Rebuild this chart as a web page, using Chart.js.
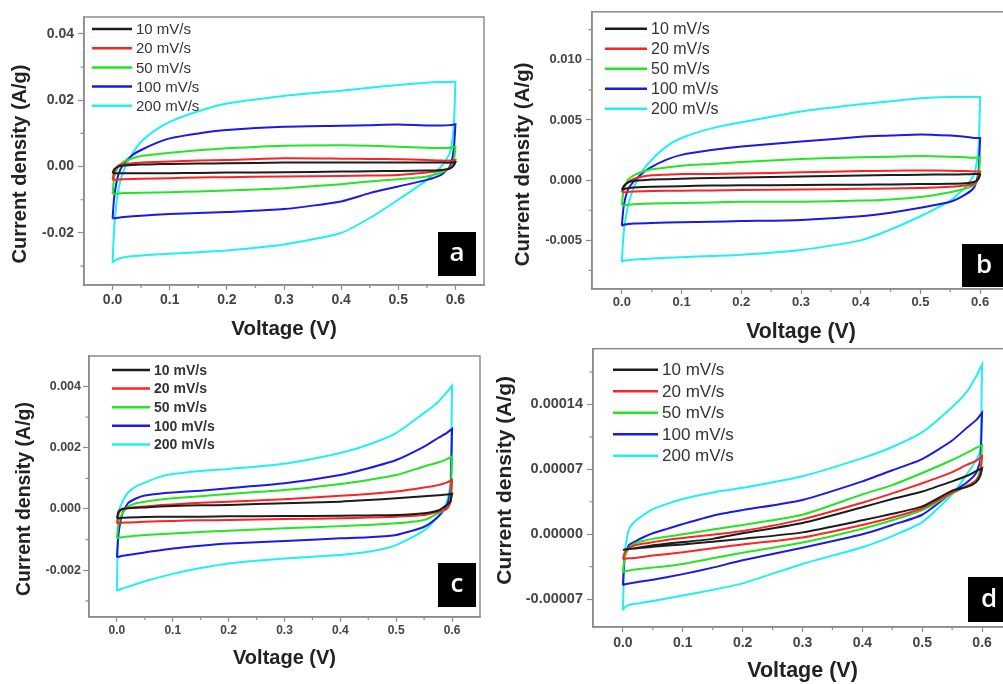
<!DOCTYPE html>
<html>
<head>
<meta charset="utf-8">
<script src="https://cdn.jsdelivr.net/npm/chart.js@4.4.1/dist/chart.umd.min.js"></script>
<style>
  html, body { margin: 0; padding: 0; background: #fff; overflow: hidden; }
  body { width: 1003px; height: 684px; position: relative; }
  canvas { position: absolute; }
</style>
</head>
<body>
<canvas id="panelA" width="500" height="345" style="left:0px;top:0px"></canvas>
<canvas id="panelB" width="520" height="345" style="left:500px;top:0px"></canvas>
<canvas id="panelC" width="500" height="330" style="left:0px;top:340px"></canvas>
<canvas id="panelD" width="540" height="348" style="left:480px;top:336px"></canvas>
<script>
// scan rates, same five in every panel
const rates = ['10 mV/s', '20 mV/s', '50 mV/s', '100 mV/s', '200 mV/s'];
const lineColors = ['#1c1c1c', '#ff2222', '#22e622', '#1a1ae8', '#1ff0f0'];

// voltage path of one CV loop: forward sweep then reverse sweep (V)
const voltFwd = [0, 0.003, 0.01, 0.02, 0.035, 0.05, 0.075, 0.1, 0.15, 0.2, 0.3, 0.4, 0.45, 0.5, 0.55, 0.575, 0.59, 0.6];
const voltRev = [0.6, 0.597, 0.59, 0.575, 0.55, 0.5, 0.45, 0.4, 0.3, 0.2, 0.15, 0.1, 0.05, 0.02, 0.01, 0.003, 0];

const xTicks = [0, 0.1, 0.2, 0.3, 0.4, 0.5, 0.6];
const xMinor = [0.05, 0.15, 0.25, 0.35, 0.45, 0.55];

// panel a (A/g), one row per scan rate
const aFwd = [
  [-0.0020, -0.0008, 0.0000, 0.0003, 0.0005, 0.0006, 0.0007, 0.0008, 0.0009, 0.0010, 0.0012, 0.0012, 0.0012, 0.0012, 0.0012, 0.0012, 0.0012, 0.0013],
  [-0.0040, -0.0015, 0.0003, 0.0008, 0.0010, 0.0012, 0.0014, 0.0015, 0.0018, 0.0020, 0.0025, 0.0024, 0.0023, 0.0022, 0.0020, 0.0018, 0.0018, 0.0020],
  [-0.0083, -0.0030, 0.0000, 0.0015, 0.0025, 0.0032, 0.0037, 0.0042, 0.0049, 0.0055, 0.0063, 0.0064, 0.0063, 0.0060, 0.0057, 0.0056, 0.0057, 0.0060],
  [-0.0157, -0.0090, -0.0025, 0.0010, 0.0035, 0.0050, 0.0070, 0.0085, 0.0100, 0.0110, 0.0120, 0.0123, 0.0125, 0.0127, 0.0124, 0.0124, 0.0125, 0.0128],
  [-0.0290, -0.0180, -0.0070, -0.0010, 0.0040, 0.0075, 0.0110, 0.0135, 0.0167, 0.0190, 0.0213, 0.0229, 0.0238, 0.0246, 0.0253, 0.0255, 0.0255, 0.0256]
];
const aRev = [
  [0.0013, 0.0003, -0.0006, -0.0010, -0.0012, -0.0013, -0.0014, -0.0015, -0.0017, -0.0018, -0.0019, -0.0020, -0.0020, -0.0020, -0.0020, -0.0020, -0.0020],
  [0.0020, 0.0005, -0.0005, -0.0012, -0.0018, -0.0025, -0.0027, -0.0028, -0.0030, -0.0032, -0.0033, -0.0035, -0.0037, -0.0038, -0.0039, -0.0040, -0.0040],
  [0.0060, 0.0015, -0.0005, -0.0018, -0.0030, -0.0038, -0.0045, -0.0053, -0.0065, -0.0072, -0.0075, -0.0077, -0.0079, -0.0080, -0.0081, -0.0082, -0.0083],
  [0.0128, 0.0050, 0.0000, -0.0025, -0.0040, -0.0060, -0.0080, -0.0105, -0.0128, -0.0137, -0.0140, -0.0143, -0.0148, -0.0152, -0.0154, -0.0156, -0.0157],
  [0.0256, 0.0120, 0.0040, 0.0000, -0.0040, -0.0100, -0.0155, -0.0200, -0.0235, -0.0253, -0.0258, -0.0263, -0.0268, -0.0273, -0.0278, -0.0285, -0.0290]
];
const aYTicks = [-0.02, 0, 0.02, 0.04];
const aYMinor = [-0.03, -0.01, 0.01, 0.03];

// panel b
const bFwd = [
  [-0.00080, -0.00050, -0.00020, -0.00005, 0.00000, 0.00005, 0.00008, 0.00012, 0.00018, 0.00022, 0.00030, 0.00038, 0.00042, 0.00045, 0.00047, 0.00048, 0.00050, 0.00050],
  [-0.00100, -0.00060, -0.00020, 0.00010, 0.00030, 0.00040, 0.00045, 0.00050, 0.00052, 0.00055, 0.00065, 0.00075, 0.00078, 0.00080, 0.00078, 0.00075, 0.00072, 0.00070],
  [-0.00210, -0.00080, 0.00000, 0.00040, 0.00070, 0.00090, 0.00105, 0.00120, 0.00135, 0.00150, 0.00175, 0.00190, 0.00195, 0.00200, 0.00195, 0.00190, 0.00185, 0.00190],
  [-0.00380, -0.00220, -0.00080, -0.00010, 0.00060, 0.00110, 0.00170, 0.00210, 0.00250, 0.00280, 0.00320, 0.00360, 0.00370, 0.00380, 0.00370, 0.00360, 0.00350, 0.00350],
  [-0.00680, -0.00440, -0.00220, -0.00060, 0.00080, 0.00170, 0.00280, 0.00350, 0.00430, 0.00480, 0.00570, 0.00630, 0.00655, 0.00680, 0.00690, 0.00690, 0.00690, 0.00690]
];
const bRev = [
  [0.00045, 0.00010, -0.00015, -0.00025, -0.00030, -0.00033, -0.00036, -0.00038, -0.00040, -0.00043, -0.00045, -0.00050, -0.00055, -0.00062, -0.00068, -0.00075, -0.00080],
  [0.00070, 0.00010, -0.00030, -0.00045, -0.00055, -0.00065, -0.00070, -0.00072, -0.00078, -0.00082, -0.00085, -0.00088, -0.00090, -0.00095, -0.00098, -0.00100, -0.00100],
  [0.00190, 0.00020, -0.00040, -0.00070, -0.00100, -0.00140, -0.00160, -0.00170, -0.00180, -0.00180, -0.00185, -0.00190, -0.00195, -0.00200, -0.00205, -0.00210, -0.00210],
  [0.00350, 0.00060, -0.00060, -0.00120, -0.00180, -0.00230, -0.00270, -0.00300, -0.00330, -0.00340, -0.00345, -0.00350, -0.00355, -0.00360, -0.00365, -0.00370, -0.00380],
  [0.00690, 0.00250, 0.00050, -0.00060, -0.00170, -0.00300, -0.00410, -0.00500, -0.00580, -0.00620, -0.00630, -0.00640, -0.00650, -0.00660, -0.00665, -0.00670, -0.00680]
];
const bYTicks = [-0.005, 0, 0.005, 0.010];
const bYMinor = [-0.0075, -0.0025, 0.0025, 0.0075, 0.0125];

// panel c
const cFwd = [
  [-0.00030, -0.00008, 0.00000, 0.00002, 0.00004, 0.00005, 0.00008, 0.00010, 0.00012, 0.00013, 0.00019, 0.00024, 0.00029, 0.00035, 0.00042, 0.00045, 0.00047, 0.00050],
  [-0.00047, -0.00014, 0.00000, 0.00004, 0.00006, 0.00008, 0.00012, 0.00015, 0.00020, 0.00024, 0.00032, 0.00043, 0.00049, 0.00057, 0.00070, 0.00078, 0.00086, 0.00095],
  [-0.00096, -0.00047, -0.00014, 0.00008, 0.00019, 0.00024, 0.00030, 0.00035, 0.00042, 0.00049, 0.00062, 0.00082, 0.00095, 0.00111, 0.00139, 0.00152, 0.00162, 0.00172],
  [-0.00158, -0.00080, -0.00014, 0.00019, 0.00035, 0.00044, 0.00050, 0.00054, 0.00060, 0.00068, 0.00084, 0.00111, 0.00133, 0.00160, 0.00204, 0.00232, 0.00248, 0.00262],
  [-0.00268, -0.00010, 0.00024, 0.00054, 0.00075, 0.00086, 0.00104, 0.00114, 0.00124, 0.00131, 0.00148, 0.00183, 0.00210, 0.00248, 0.00314, 0.00350, 0.00380, 0.00403]
];
const cRev = [
  [0.00050, 0.00025, 0.00012, -0.00005, -0.00014, -0.00020, -0.00021, -0.00022, -0.00023, -0.00024, -0.00025, -0.00025, -0.00026, -0.00028, -0.00029, -0.00030, -0.00030],
  [0.00095, 0.00020, 0.00000, -0.00009, -0.00020, -0.00025, -0.00028, -0.00030, -0.00033, -0.00036, -0.00037, -0.00039, -0.00042, -0.00044, -0.00045, -0.00046, -0.00047],
  [0.00172, 0.00030, 0.00000, -0.00014, -0.00036, -0.00047, -0.00052, -0.00056, -0.00063, -0.00071, -0.00075, -0.00080, -0.00085, -0.00090, -0.00092, -0.00094, -0.00096],
  [0.00262, 0.00060, 0.00008, -0.00025, -0.00058, -0.00085, -0.00092, -0.00096, -0.00105, -0.00113, -0.00120, -0.00129, -0.00142, -0.00150, -0.00153, -0.00156, -0.00158],
  [0.00403, 0.00080, 0.00020, -0.00025, -0.00070, -0.00118, -0.00140, -0.00150, -0.00162, -0.00178, -0.00193, -0.00212, -0.00236, -0.00254, -0.00260, -0.00265, -0.00268]
];
const cYTicks = [-0.002, 0, 0.002, 0.004];
const cYMinor = [-0.003, -0.001, 0.001, 0.003];

// panel d
const dFwd = [
  [-1.7e-5, -1.65e-5, -1.6e-5, -1.5e-5, -1.35e-5, -1.2e-5, -1.0e-5, -0.85e-5, -0.5e-5, 0.1e-5, 1.2e-5, 2.9e-5, 3.8e-5, 4.6e-5, 5.7e-5, 6.3e-5, 6.8e-5, 7.1e-5],
  [-2.7e-5, -2.0e-5, -1.5e-5, -1.2e-5, -1.0e-5, -0.85e-5, -0.6e-5, -0.4e-5, -0.05e-5, 0.35e-5, 1.6e-5, 3.4e-5, 4.4e-5, 5.5e-5, 6.7e-5, 7.5e-5, 7.9e-5, 8.4e-5],
  [-4.1e-5, -2.5e-5, -1.5e-5, -1.0e-5, -0.7e-5, -0.5e-5, -0.25e-5, 0.0e-5, 0.5e-5, 1.0e-5, 2.1e-5, 4.3e-5, 5.3e-5, 6.6e-5, 8.0e-5, 8.8e-5, 9.3e-5, 9.6e-5],
  [-5.5e-5, -2.5e-5, -1.2e-5, -0.8e-5, -0.3e-5, 0.1e-5, 0.6e-5, 1.1e-5, 2.0e-5, 2.6e-5, 3.7e-5, 5.7e-5, 6.9e-5, 8.1e-5, 10.1e-5, 11.5e-5, 12.3e-5, 13.1e-5],
  [-8.2e-5, -2.0e-5, 0.5e-5, 1.4e-5, 2.1e-5, 2.7e-5, 3.3e-5, 3.8e-5, 4.5e-5, 5.0e-5, 6.25e-5, 8.2e-5, 9.4e-5, 11.0e-5, 13.7e-5, 15.4e-5, 17.0e-5, 18.3e-5]
];
const dRev = [
  [7.1e-5, 6.3e-5, 5.6e-5, 5.1e-5, 4.7e-5, 3.0e-5, 2.2e-5, 1.5e-5, 0.2e-5, -0.5e-5, -0.8e-5, -1.1e-5, -1.35e-5, -1.55e-5, -1.6e-5, -1.65e-5, -1.7e-5],
  [8.4e-5, 6.5e-5, 5.8e-5, 5.2e-5, 4.5e-5, 2.8e-5, 1.8e-5, 1.0e-5, -0.35e-5, -1.1e-5, -1.5e-5, -1.95e-5, -2.3e-5, -2.55e-5, -2.6e-5, -2.65e-5, -2.7e-5],
  [9.6e-5, 7.0e-5, 5.8e-5, 5.2e-5, 4.4e-5, 2.6e-5, 1.5e-5, 0.6e-5, -0.9e-5, -2.0e-5, -2.6e-5, -3.2e-5, -3.6e-5, -3.8e-5, -3.9e-5, -4.0e-5, -4.1e-5],
  [13.1e-5, 8.0e-5, 6.6e-5, 5.6e-5, 4.5e-5, 2.1e-5, 1.0e-5, 0.0e-5, -1.45e-5, -2.8e-5, -3.6e-5, -4.3e-5, -4.9e-5, -5.2e-5, -5.3e-5, -5.4e-5, -5.5e-5],
  [18.3e-5, 9.0e-5, 8.0e-5, 6.5e-5, 4.3e-5, 1.3e-5, -0.2e-5, -1.4e-5, -3.2e-5, -5.3e-5, -6.0e-5, -6.6e-5, -7.2e-5, -7.5e-5, -7.6e-5, -7.9e-5, -8.2e-5]
];
const dYTicks = [-0.00007, 0, 0.00007, 0.00014];
const dYMinor = [-0.000035, 0.000035, 0.000105, 0.000175];

const FONT = '"Liberation Sans", Arial, sans-serif';
const AXIS_GRAY = '#8c8c8c';

function isMajor(list, v) {
  return list.some(t => Math.abs(t - v) < 1e-10);
}

function loop(fwd, rev) {
  const up = voltFwd.map((v, i) => ({ x: v, y: fwd[i] }));
  const down = voltRev.map((v, i) => ({ x: v, y: rev[i] }));
  return up.concat(down);
}

// frame, short minor ticks, legend inside the plot, rotated y title and the letter tag
const panelDecor = {
  id: 'panelDecor',
  afterDraw(chart, args, opts) {
    const { ctx, chartArea: ca, scales } = chart;
    ctx.save();
    ctx.strokeStyle = AXIS_GRAY;
    ctx.lineWidth = 1.5;
    ctx.strokeRect(ca.left, ca.top, ca.right - ca.left, ca.bottom - ca.top);

    ctx.lineWidth = 1.2;
    ctx.beginPath();
    xMinor.forEach(v => {
      const px = scales.x.getPixelForValue(v);
      ctx.moveTo(px, ca.bottom);
      ctx.lineTo(px, ca.bottom + 3);
    });
    opts.yMinor.forEach(v => {
      const py = scales.y.getPixelForValue(v);
      if (py < ca.top || py > ca.bottom) return;
      ctx.moveTo(ca.left, py);
      ctx.lineTo(ca.left - 3.5, py);
    });
    ctx.stroke();

    const lg = opts.legend;
    ctx.font = lg.font;
    ctx.textAlign = 'left';
    ctx.textBaseline = 'middle';
    chart.data.datasets.forEach((ds, i) => {
      const y = ca.top + lg.top + i * lg.gap;
      const x0 = ca.left + lg.left;
      ctx.strokeStyle = ds.borderColor;
      ctx.lineWidth = 2.5;
      ctx.beginPath();
      ctx.moveTo(x0, y);
      ctx.lineTo(x0 + lg.len, y);
      ctx.stroke();
      ctx.fillStyle = '#333';
      ctx.fillText(ds.label, x0 + lg.len + 4, y + 1);
    });

    const yt = opts.yTitle;
    ctx.save();
    ctx.translate(yt.x, (ca.top + ca.bottom) / 2 + yt.dy);
    ctx.rotate(-Math.PI / 2);
    ctx.font = 'bold ' + yt.size + 'px ' + FONT;
    ctx.fillStyle = '#222';
    ctx.textAlign = 'center';
    ctx.fillText('Current density (A/g)', 0, 0);
    ctx.restore();

    const tg = opts.tag;
    const bx = ca.right - tg.right - tg.w;
    const by = ca.bottom - tg.bottom - tg.h;
    ctx.fillStyle = '#000';
    ctx.fillRect(bx, by, tg.w, tg.h);
    ctx.fillStyle = '#fff';
    ctx.font = '600 26px "Open Sans", sans-serif';
    ctx.textAlign = 'center';
    ctx.fillText(tg.text, bx + tg.w / 2, by + tg.h / 2);
    ctx.restore();
  }
};

function cvPanel(id, fwd, rev, yTicks, yMinor, yMin, yMax, digits, s) {
  const datasets = rates.map((r, i) => ({
    label: r,
    data: loop(fwd[i], rev[i]),
    borderColor: lineColors[i],
    backgroundColor: lineColors[i],
    borderWidth: 2,
    showLine: true,
    pointRadius: 0,
    tension: 0.2,
    fill: false
  }));
  const bold = size => ({ family: FONT, weight: 'bold', size: size });
  s.decor.yMinor = yMinor;
  return new Chart(document.getElementById(id), {
    type: 'scatter',
    data: { datasets: datasets },
    plugins: [panelDecor],
    options: {
      responsive: false,
      animation: false,
      events: [],
      layout: { autoPadding: false, padding: { top: s.top, right: s.right, left: 0, bottom: 0 } },
      plugins: {
        legend: { display: false },
        tooltip: { enabled: false },
        panelDecor: s.decor
      },
      scales: {
        x: {
          type: 'linear',
          min: -0.05,
          max: 0.65,
          bounds: 'data',
          afterFit: sc => { sc.height = s.xHeight; },
          afterBuildTicks: sc => { sc.ticks = xTicks.map(v => ({ value: v })); },
          ticks: {
            autoSkip: false,
            maxRotation: 0,
            padding: s.xPad,
            color: '#444',
            font: bold(s.xFont),
            callback: v => v.toFixed(1)
          },
          grid: { drawOnChartArea: false, tickLength: 5, color: AXIS_GRAY, tickWidth: 1.2 },
          border: { color: AXIS_GRAY, width: 1.5 },
          title: {
            display: true,
            text: 'Voltage (V)',
            color: '#222',
            font: bold(s.xTitle),
            padding: { top: 0, bottom: s.titlePad }
          }
        },
        y: {
          type: 'linear',
          min: yMin,
          max: yMax,
          bounds: 'data',
          afterFit: sc => { sc.width = s.yWidth; },
          afterBuildTicks: sc => { sc.ticks = yTicks.map(v => ({ value: v })); },
          ticks: {
            autoSkip: false,
            padding: s.yPad,
            color: '#444',
            font: bold(s.yFont),
            callback: v => v.toFixed(digits)
          },
          grid: { drawOnChartArea: false, tickLength: 6, color: AXIS_GRAY, tickWidth: 1.2 },
          border: { color: AXIS_GRAY, width: 1.5 },
          title: { display: false }
        }
      }
    }
  });
}

const PanelA = cvPanel('panelA', aFwd, aRev, aYTicks, aYMinor, -0.0357, 0.0451, 2, {
  top: 17, right: 16, yWidth: 84, xHeight: 60, titlePad: 3,
  xFont: 14, yFont: 14, xTitle: 20.5, xPad: 2, yPad: 4,
  decor: {
    legend: { left: 8, top: 12, gap: 19.2, len: 40, font: '15px ' + FONT },
    yTitle: { x: 20, dy: 13, size: 20 },
    tag: { text: 'a', w: 38, h: 44, right: 8, bottom: 9 }
  }
});

const PanelB = cvPanel('panelB', bFwd, bRev, bYTicks, bYMinor, -0.00904, 0.01398, 3, {
  top: 11, right: 10, yWidth: 92, xHeight: 56, titlePad: 0,
  xFont: 13, yFont: 13, xTitle: 21.3, xPad: 1, yPad: 4,
  decor: {
    legend: { left: 13, top: 17, gap: 20, len: 42, font: '16px ' + FONT },
    yTitle: { x: 23, dy: 14, size: 20.5 },
    tag: { text: 'b', w: 44, h: 43, right: 4, bottom: 2 }
  }
});

const PanelC = cvPanel('panelC', cFwd, cRev, cYTicks, cYMinor, -0.00353, 0.0050, 3, {
  top: 16, right: 20, yWidth: 89, xHeight: 53, titlePad: 0,
  xFont: 12, yFont: 12.5, xTitle: 20, xPad: 1, yPad: 2,
  decor: {
    legend: { left: 23, top: 14, gap: 18.6, len: 38, font: 'bold 14px ' + FONT },
    yTitle: { x: 25, dy: 12.5, size: 19.5 },
    tag: { text: 'c', w: 38, h: 44, right: 4, bottom: 10 }
  }
});

const PanelD = cvPanel('panelD', dFwd, dRev, dYTicks, dYMinor, -0.0001, 0.0002, 5, {
  top: 10, right: 8, yWidth: 113, xHeight: 57, titlePad: 0,
  xFont: 14, yFont: 14.5, xTitle: 21.5, xPad: 3, yPad: 4,
  decor: {
    legend: { left: 20, top: 21, gap: 21.5, len: 45, font: '17px ' + FONT },
    yTitle: { x: 25, dy: -7.5, size: 21 },
    tag: { text: 'd', w: 42, h: 45, right: 2, bottom: 5 }
  }
});
</script>
</body>
</html>
